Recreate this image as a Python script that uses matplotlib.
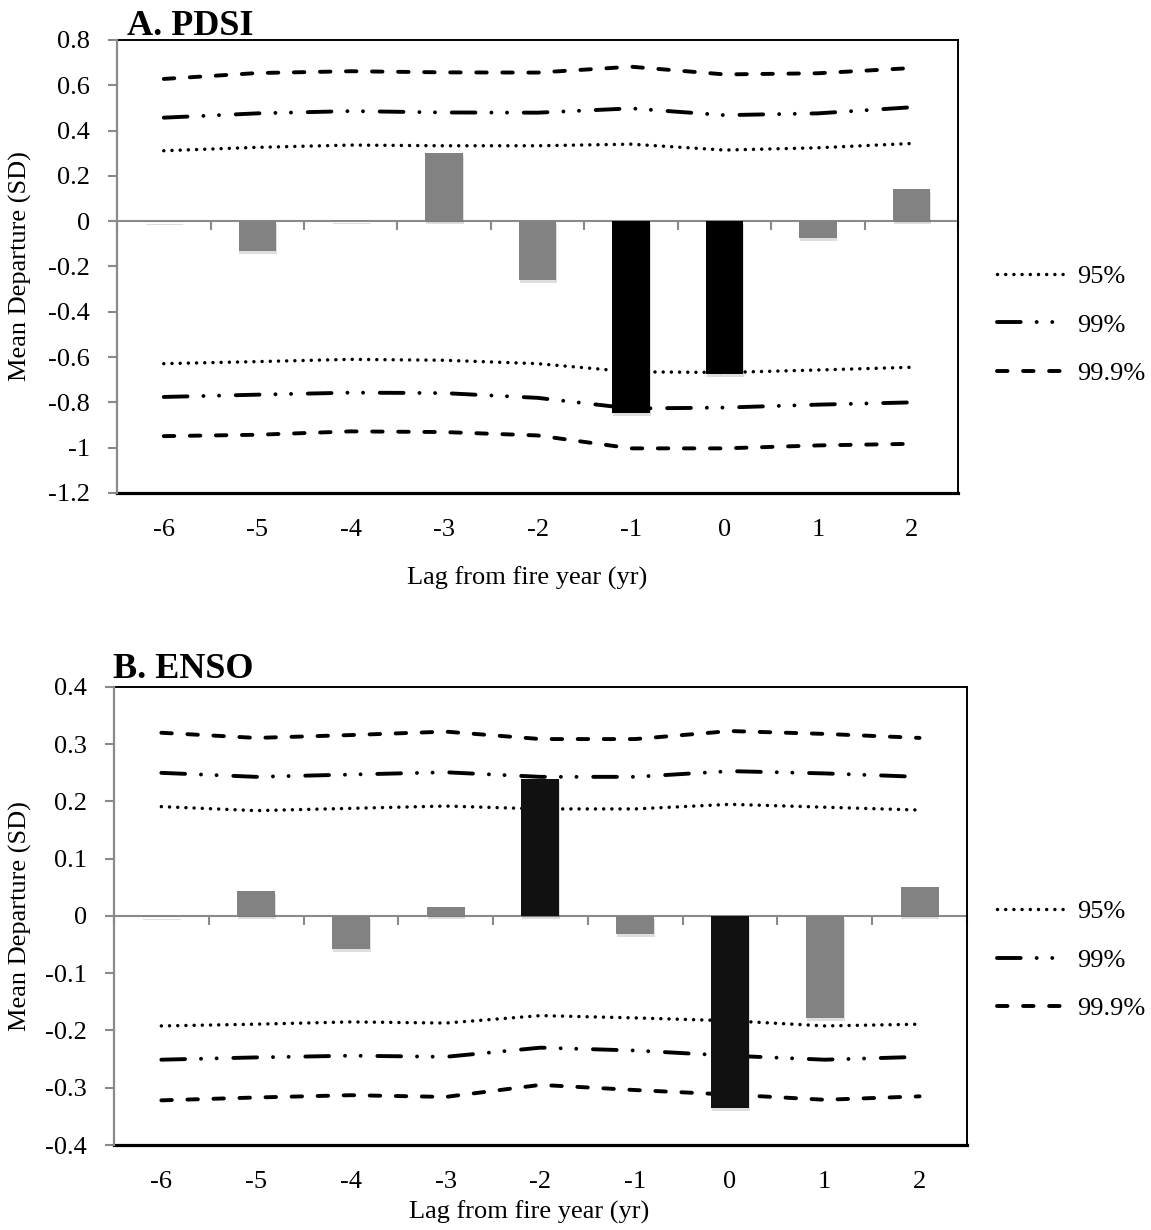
import matplotlib
matplotlib.use("Agg")
import matplotlib.pyplot as plt
import matplotlib.patheffects as pe
from matplotlib.lines import Line2D
import numpy as np

plt.rcParams['font.family'] = ['Liberation Serif', 'DejaVu Serif']

lags = [-6, -5, -4, -3, -2, -1, 0, 1, 2]

# A. PDSI
pdsi_dep = [-0.003, -0.13, 0.007, 0.30, -0.258, -0.846, -0.673, -0.074, 0.141]
pdsi_sig = [False, False, False, False, False, True, True, False, False]
pdsi_95_hi = [0.311, 0.326, 0.336, 0.333, 0.333, 0.340, 0.314, 0.324, 0.343]
pdsi_99_hi = [0.457, 0.476, 0.486, 0.480, 0.479, 0.498, 0.468, 0.476, 0.503]
pdsi_999_hi = [0.628, 0.654, 0.662, 0.657, 0.656, 0.682, 0.648, 0.653, 0.676]
pdsi_95_lo = [-0.629, -0.620, -0.610, -0.614, -0.629, -0.665, -0.668, -0.657, -0.645]
pdsi_99_lo = [-0.776, -0.766, -0.757, -0.759, -0.780, -0.827, -0.823, -0.810, -0.800]
pdsi_999_lo = [-0.949, -0.943, -0.928, -0.931, -0.946, -1.003, -1.003, -0.990, -0.983]

# B. ENSO
enso_dep = [-0.002, 0.044, -0.058, 0.015, 0.240, -0.032, -0.336, -0.178, 0.050]
enso_sig = [False, False, False, False, True, False, True, False, False]
enso_95_hi = [0.191, 0.184, 0.188, 0.192, 0.187, 0.187, 0.195, 0.190, 0.185]
enso_99_hi = [0.250, 0.243, 0.247, 0.251, 0.243, 0.243, 0.253, 0.249, 0.243]
enso_999_hi = [0.320, 0.311, 0.316, 0.322, 0.309, 0.309, 0.323, 0.318, 0.311]
enso_95_lo = [-0.192, -0.189, -0.185, -0.187, -0.174, -0.178, -0.183, -0.192, -0.189]
enso_99_lo = [-0.251, -0.247, -0.244, -0.246, -0.230, -0.235, -0.244, -0.251, -0.246]
enso_999_lo = [-0.322, -0.317, -0.313, -0.316, -0.295, -0.304, -0.312, -0.321, -0.315]

GREY = "#8a8a8a"
BAR_GREY = "#828282"

# dash patterns (in units of line width), round caps
styles = {
    "95%": dict(lw=2.5, dashes=(0.01, 2.35)),
    "99%": dict(lw=2.8, dashes=(6.1, 4.1, 0.01, 4.0, 0.01, 4.3)),
    "99.9%": dict(lw=2.8, dashes=(2.7, 4.0)),
}


def draw_line(ax, x, y, key):
    st = styles[key]
    ln, = ax.plot(x, y, color="black", lw=st["lw"], zorder=1)
    ln.set_dashes(st["dashes"])
    ln.set_dash_capstyle("round")
    return ln


def panel(ax, title, dep, sig, lines, ylim, ystep, dark, title_xy):
    x = np.arange(len(lags))
    colors = [dark if s else BAR_GREY for s in sig]
    bars = ax.bar(x, dep, width=0.4, color=colors, zorder=3)
    for b in bars:
        b.set_path_effects([pe.withSimplePatchShadow(offset=(0.6, -2.2), shadow_rgbFace="black", alpha=0.13),
                            pe.Normal()])
    for key, (hi, lo) in lines.items():
        draw_line(ax, x, hi, key)
        draw_line(ax, x, lo, key)

    ax.set_xlim(-0.5, len(lags) - 0.5)
    ax.set_ylim(*ylim)
    yt = np.arange(ylim[0], ylim[1] + ystep / 2, ystep)
    ax.set_yticks(yt)
    ax.set_yticklabels(["0" if abs(v) < 1e-9 else ("%g" % round(v, 2)) for v in yt])

    ax.set_xticks(x)
    ax.set_xticklabels([str(v) for v in lags])
    ax.tick_params(axis="x", length=0, pad=19, labelsize=19)
    ax.tick_params(axis="y", length=6.5, width=1.5, color=GREY, direction="out", pad=13, labelsize=19)

    for s in ["top", "right"]:
        ax.spines[s].set_color("black")
        ax.spines[s].set_linewidth(1.4)
    ax.spines["bottom"].set_color("black")
    ax.spines["bottom"].set_linewidth(2.3)
    ax.spines["left"].set_color(GREY)
    ax.spines["left"].set_linewidth(1.6)
    ax.spines["left"].set_zorder(5)

    # category axis crossing at zero
    zero_frac = (0 - ylim[0]) / (ylim[1] - ylim[0])
    sec = ax.secondary_xaxis(zero_frac)
    sec.set_xticks(np.arange(-0.5, len(lags) + 0.5, 1.0))
    sec.set_xticklabels([])
    sec.tick_params(length=6.5, width=1.5, color=GREY, direction="in")
    for sp in sec.spines.values():
        sp.set_color(GREY)
        sp.set_linewidth(1.5)

    ax.set_ylabel("Mean Departure (SD)", fontsize=19)
    ax.set_xlabel("Lag from fire year (yr)", fontsize=19)
    ax.text(title_xy[0], title_xy[1], title, transform=ax.transAxes, fontsize=26,
            fontweight="bold", ha="left", va="baseline")


fig = plt.figure(figsize=(11.51, 12.30), dpi=100)
axA = fig.add_axes([0.1017, 0.5992, 0.7307, 0.3683])
axB = fig.add_axes([0.0990, 0.0691, 0.7411, 0.3724])

panel(axA, "A. PDSI", pdsi_dep, pdsi_sig,
      {"95%": (pdsi_95_hi, pdsi_95_lo), "99%": (pdsi_99_hi, pdsi_99_lo), "99.9%": (pdsi_999_hi, pdsi_999_lo)},
      (-1.2, 0.8), 0.2, "black", (0.012, 1.011))
panel(axB, "B. ENSO", enso_dep, enso_sig,
      {"95%": (enso_95_hi, enso_95_lo), "99%": (enso_99_hi, enso_99_lo), "99.9%": (enso_999_hi, enso_999_lo)},
      (-0.4, 0.4), 0.1, "#111111", (-0.001, 1.02))

axA.yaxis.set_label_coords(-0.101, 0.5)
axB.yaxis.set_label_coords(-0.096, 0.5)
axA.xaxis.set_label_coords(0.487, -0.163)
axB.xaxis.set_label_coords(0.487, -0.121)


def legend_handles():
    hs = []
    for key in ["95%", "99%", "99.9%"]:
        st = styles[key]
        h = Line2D([], [], color="black", lw=st["lw"], dashes=st["dashes"],
                   dash_capstyle="round", label=key)
        hs.append(h)
    return hs


for yc in [0.7358, 0.2195]:
    fig.legend(handles=legend_handles(), loc="center left", bbox_to_anchor=(0.866, yc),
               frameon=False, fontsize=19, handlelength=2.5, handletextpad=0.55,
               labelspacing=0.95, borderpad=0, borderaxespad=0)

fig.savefig("out.png", dpi=100)
